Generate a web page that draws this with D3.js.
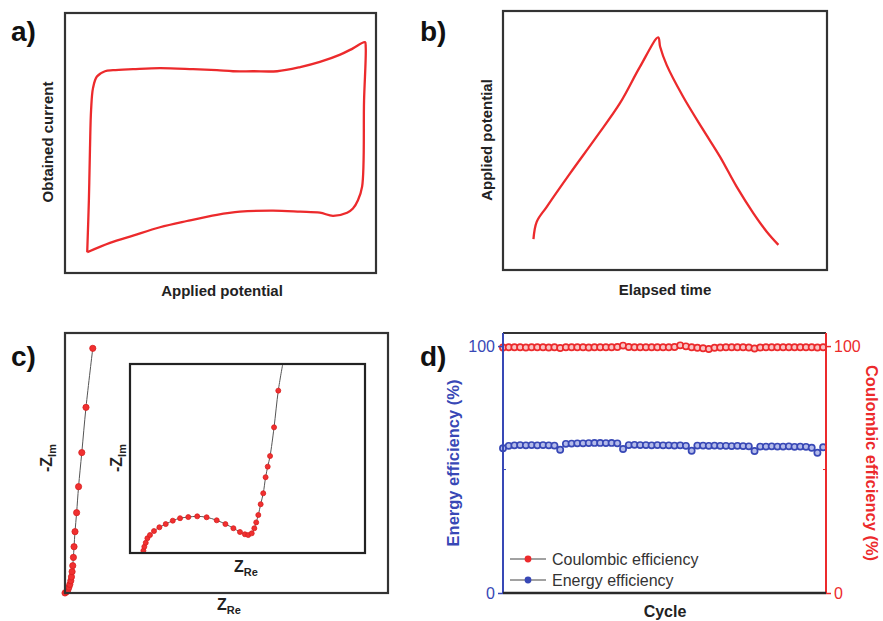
<!DOCTYPE html>
<html>
<head>
<meta charset="utf-8">
<script src="https://cdnjs.cloudflare.com/ajax/libs/d3/7.8.5/d3.min.js"></script>
<style>
  body { margin: 0; background: #fff; }
  text { font-family: Arial, "Liberation Sans", sans-serif; }
</style>
</head>
<body>
<script>
'use strict';

// ---- data (arbitrary units) ----
// a) cyclic voltammogram
const cvPotential = [0.00, 0.006, 0.010, 0.014, 0.021, 0.035, 0.064, 0.093, 0.165, 0.262, 0.381, 0.467, 0.525, 0.597, 0.684, 0.767, 0.838, 0.911, 0.957, 1.000,
  1.003, 0.997, 0.990, 0.975, 0.957, 0.936, 0.885, 0.838, 0.767, 0.669, 0.550, 0.467, 0.359, 0.262, 0.165, 0.082, 0.00];
const cvCurrent = [-1.00, -0.50, 0.00, 0.37, 0.58, 0.69, 0.74, 0.75, 0.76, 0.77, 0.76, 0.75, 0.74, 0.74, 0.74, 0.78, 0.83, 0.90, 0.96, 1.02,
  0.97, 0.46, -0.37, -0.50, -0.58, -0.62, -0.65, -0.62, -0.61, -0.60, -0.61, -0.64, -0.70, -0.76, -0.84, -0.91, -1.00];

// b) galvanostatic charge / discharge
const gcdTime = [0.094, 0.104, 0.135, 0.207, 0.289, 0.361, 0.423, 0.479, 0.485, 0.505, 0.556, 0.618, 0.670, 0.721, 0.773, 0.814, 0.850];
const gcdPotential = [0.119, 0.186, 0.244, 0.373, 0.515, 0.644, 0.785, 0.898, 0.862, 0.792, 0.669, 0.541, 0.437, 0.322, 0.219, 0.148, 0.097];

// c) Nyquist plot, full range
const nyqRe = [0.000, 0.005, 0.009, 0.012, 0.015, 0.018, 0.020, 0.022, 0.024, 0.026, 0.028, 0.031, 0.036, 0.042, 0.052, 0.065, 0.086];
const nyqIm = [0.000, 0.005, 0.012, 0.022, 0.033, 0.047, 0.062, 0.082, 0.105, 0.137, 0.178, 0.236, 0.309, 0.409, 0.540, 0.714, 0.941];

// c) inset, high frequency region
const insetRe = [0.057, 0.061, 0.067, 0.074, 0.085, 0.102, 0.125, 0.152, 0.182, 0.213, 0.248, 0.286, 0.326, 0.369, 0.406, 0.440, 0.468, 0.489, 0.503,
  0.518, 0.529, 0.537, 0.546, 0.556, 0.567, 0.577, 0.586, 0.596, 0.613, 0.631];
const insetIm = [0.012, 0.033, 0.054, 0.078, 0.095, 0.116, 0.136, 0.153, 0.171, 0.184, 0.190, 0.194, 0.189, 0.173, 0.153, 0.131, 0.111, 0.099, 0.095,
  0.104, 0.131, 0.162, 0.201, 0.258, 0.316, 0.401, 0.457, 0.513, 0.665, 0.859];
const insetTail = [0.650, 1.0]; // line leaves the inset box here

// d) cycling efficiency (%)
const energyEff = [58.6, 59.6, 59.8, 59.9, 59.8, 59.9, 59.8, 59.9, 59.8, 59.7, 58.0,
  60.4, 60.5, 60.6, 60.6, 60.7, 60.8, 60.8, 60.7, 60.8, 60.6, 58.3,
  59.9, 60.0, 59.9, 59.9, 59.8, 59.9, 59.8, 59.8, 59.7, 59.8, 59.6, 57.6,
  59.7, 59.7, 59.6, 59.7, 59.6, 59.6, 59.5, 59.6, 59.5, 59.4, 57.5,
  59.3, 59.3, 59.4, 59.3, 59.3, 59.4, 59.2, 59.3, 59.2, 58.8, 56.8, 59.0];
const coulombicEff = [99.4, 99.5, 99.5, 99.5, 99.4, 99.5, 99.5, 99.5, 99.4, 99.5, 99.2,
  99.5, 99.5, 99.5, 99.5, 99.4, 99.5, 99.5, 99.5, 99.5, 99.6, 100.2,
  99.6, 99.5, 99.5, 99.5, 99.5, 99.5, 99.5, 99.5, 99.6, 100.3, 99.9, 99.5,
  99.3, 99.1, 98.8, 99.3, 99.4, 99.5, 99.5, 99.5, 99.5, 99.4, 99.0,
  99.4, 99.5, 99.5, 99.5, 99.5, 99.5, 99.5, 99.5, 99.5, 99.5, 99.4, 99.5];
const effTicks = [0, 100];
const legendLabels = ["Coulombic efficiency", "Energy efficiency"];

const RED = "#ec2a2c";
const BLUE = "#3848b6";
const INK = "#222";
const FRAME = "#333";

const svg = d3.select("body").append("svg")
  .attr("width", 883)
  .attr("height", 621);

function zip(xs, ys) { return xs.map((x, i) => [x, ys[i]]); }

// panel frame + letter
function frame(x0, y0, x1, y1, stroke) {
  svg.append("rect")
    .attr("x", x0).attr("y", y0)
    .attr("width", x1 - x0).attr("height", y1 - y0)
    .attr("fill", "none")
    .attr("stroke", stroke || FRAME)
    .attr("stroke-width", 2.2);
}

function panelLetter(x, y, s) {
  svg.append("text")
    .attr("x", x).attr("y", y)
    .style("font-size", "28px")
    .style("font-weight", "bold")
    .attr("fill", "#111")
    .text(s);
}

function xTitle(x, y, s, size) {
  svg.append("text")
    .attr("x", x).attr("y", y)
    .attr("text-anchor", "middle")
    .style("font-size", size || "15px")
    .style("font-weight", "bold")
    .attr("fill", INK)
    .text(s);
}

function yTitle(x, y, s, color, rot, size) {
  svg.append("text")
    .attr("transform", `translate(${x},${y})rotate(${rot || -90})`)
    .attr("text-anchor", "middle")
    .style("font-size", size || "15px")
    .style("font-weight", "bold")
    .attr("fill", color || INK)
    .text(s);
}

// Z with subscript
function zLabel(x, y, main, sub, rot) {
  let t = svg.append("text")
    .attr("transform", `translate(${x},${y})rotate(${rot || 0})`)
    .attr("text-anchor", "middle")
    .style("font-weight", "bold")
    .attr("fill", INK);
  t.append("tspan").style("font-size", "16px").text(main);
  t.append("tspan").style("font-size", "11px").attr("dy", 4).text(sub);
}

// ---------- a) ----------
function panelA() {
  let x = d3.scaleLinear().domain([-0.08, 1.04]).range([65, 376]);
  let y = d3.scaleLinear().domain([-1.2, 1.3]).range([273, 13]);
  let line = d3.line()
    .x(d => x(d[0])).y(d => y(d[1]))
    .curve(d3.curveCatmullRom.alpha(0.5));
  svg.append("path")
    .attr("d", line(zip(cvPotential, cvCurrent)))
    .attr("fill", "none")
    .attr("stroke", RED)
    .attr("stroke-width", 2.3);
  frame(65, 13, 376, 273);
  panelLetter(11, 41, "a)");
  yTitle(53, 142, "Obtained current");
  xTitle(222, 296, "Applied potential");
}

// ---------- b) ----------
function panelB() {
  let x = d3.scaleLinear().domain([0, 1]).range([503, 827]);
  let y = d3.scaleLinear().domain([0, 1]).range([270, 11]);
  let line = d3.line()
    .x(d => x(d[0])).y(d => y(d[1]))
    .curve(d3.curveCatmullRom.alpha(0.5));
  svg.append("path")
    .attr("d", line(zip(gcdTime, gcdPotential)))
    .attr("fill", "none")
    .attr("stroke", RED)
    .attr("stroke-width", 2.3);
  frame(503, 11, 827, 270);
  panelLetter(420, 41, "b)");
  yTitle(492, 140, "Applied potential");
  xTitle(665, 295, "Elapsed time");
}

// ---------- c) ----------
function nyquistSeries(x, y, re, im, tail, r) {
  let pts = zip(re, im);
  let linePts = tail ? pts.concat([tail]) : pts;
  let line = d3.line()
    .x(d => x(d[0])).y(d => y(d[1]))
    .curve(d3.curveCatmullRom.alpha(0.5));
  svg.append("path")
    .attr("d", line(linePts))
    .attr("fill", "none")
    .attr("stroke", "#555")
    .attr("stroke-width", 1);
  svg.append("g").selectAll("circle")
    .data(pts)
    .enter()
    .append("circle")
    .attr("cx", d => x(d[0]))
    .attr("cy", d => y(d[1]))
    .attr("r", r)
    .attr("fill", "#f03030")
    .attr("stroke", "#d82020")
    .attr("stroke-width", 0.8);
}

function panelC() {
  let x = d3.scaleLinear().domain([0, 1]).range([65, 388]);
  let y = d3.scaleLinear().domain([0, 1]).range([593, 333]);
  nyquistSeries(x, y, nyqRe, nyqIm, null, 3.1);
  frame(65, 333, 388, 593);

  let xi = d3.scaleLinear().domain([0, 1]).range([130, 365]);
  let yi = d3.scaleLinear().domain([0, 1]).range([553, 364]);
  svg.append("rect")
    .attr("x", 130).attr("y", 364).attr("width", 235).attr("height", 189)
    .attr("fill", "#fff");
  nyquistSeries(xi, yi, insetRe, insetIm, insetTail, 2.5);
  frame(130, 364, 365, 553, "#222");

  panelLetter(11, 366, "c)");
  zLabel(52, 458, "-Z", "Im", -90);
  zLabel(122, 458, "-Z", "Im", -90);
  zLabel(246, 572, "Z", "Re");
  zLabel(229, 610, "Z", "Re");
}

// ---------- d) ----------
function panelD() {
  let n = energyEff.length;
  let x = d3.scaleLinear().domain([0, n - 0.5]).range([503, 826]);
  let y = d3.scaleLinear().domain([0, 105.3]).range([593, 333]);

  // frame: top + bottom dark, sides coloured
  svg.append("line").attr("x1", 503).attr("x2", 826).attr("y1", 333).attr("y2", 333)
    .attr("stroke", FRAME).attr("stroke-width", 2.2);

  let line = d3.line().x((d, i) => x(i)).y(d => y(d));
  let series = [
    { vals: coulombicEff, color: RED, fill: "#f9c4c4" },
    { vals: energyEff, color: BLUE, fill: "#b4bbea" }
  ];
  series.forEach(s => {
    svg.append("path")
      .attr("d", line(s.vals))
      .attr("fill", "none")
      .attr("stroke", s.color)
      .attr("stroke-width", 1.2);
    svg.append("g").selectAll("circle")
      .data(s.vals)
      .enter()
      .append("circle")
      .attr("cx", (d, i) => x(i))
      .attr("cy", d => y(d))
      .attr("r", 3.1)
      .attr("fill", s.fill)
      .attr("stroke", s.color)
      .attr("stroke-width", 1.7);
  });

  // left axis (blue)
  let yl = svg.append("g")
    .attr("transform", "translate(503,0)")
    .call(d3.axisLeft(y).tickValues(effTicks).tickSize(5).tickPadding(3));
  yl.select(".domain").remove();
  yl.selectAll("line").attr("stroke", BLUE).attr("stroke-width", 1.5);
  yl.selectAll("text").attr("fill", BLUE).style("font-size", "16px");
  svg.append("line").attr("x1", 503).attr("x2", 503).attr("y1", 333).attr("y2", 593)
    .attr("stroke", BLUE).attr("stroke-width", 2);
  svg.append("line").attr("x1", 503).attr("x2", 506).attr("y1", y(50)).attr("y2", y(50))
    .attr("stroke", BLUE).attr("stroke-width", 1);

  // right axis (red)
  let yr = svg.append("g")
    .attr("transform", "translate(826,0)")
    .call(d3.axisRight(y).tickValues(effTicks).tickSize(5).tickPadding(3));
  yr.select(".domain").remove();
  yr.selectAll("line").attr("stroke", RED).attr("stroke-width", 1.5);
  yr.selectAll("text").attr("fill", RED).style("font-size", "16px");
  svg.append("line").attr("x1", 826).attr("x2", 826).attr("y1", 333).attr("y2", 593)
    .attr("stroke", RED).attr("stroke-width", 2);
  svg.append("line").attr("x1", 823).attr("x2", 826).attr("y1", y(50)).attr("y2", y(50))
    .attr("stroke", RED).attr("stroke-width", 1);

  // bottom axis
  svg.append("line").attr("x1", 503).attr("x2", 826).attr("y1", 593).attr("y2", 593)
    .attr("stroke", "#2a2a2a").attr("stroke-width", 2.5);

  // legend
  let legColors = [RED, BLUE];
  legendLabels.forEach((lab, i) => {
    let ly = 559 + i * 21;
    svg.append("line").attr("x1", 510).attr("x2", 546).attr("y1", ly).attr("y2", ly)
      .attr("stroke", "#444").attr("stroke-width", 1);
    svg.append("circle").attr("cx", 528).attr("cy", ly).attr("r", 3.4)
      .attr("fill", legColors[i]);
    svg.append("text").attr("x", 552).attr("y", ly + 5.5)
      .style("font-size", "16px").attr("fill", "#333")
      .text(lab);
  });

  panelLetter(420, 366, "d)");
  yTitle(459, 463, "Energy efficiency (%)", BLUE, -90, "16.5px");
  yTitle(866, 463, "Coulombic efficiency (%)", RED, 90, "16.5px");
  xTitle(665, 617, "Cycle", "16px");
}

panelA();
panelB();
panelC();
panelD();
</script>
</body>
</html>
